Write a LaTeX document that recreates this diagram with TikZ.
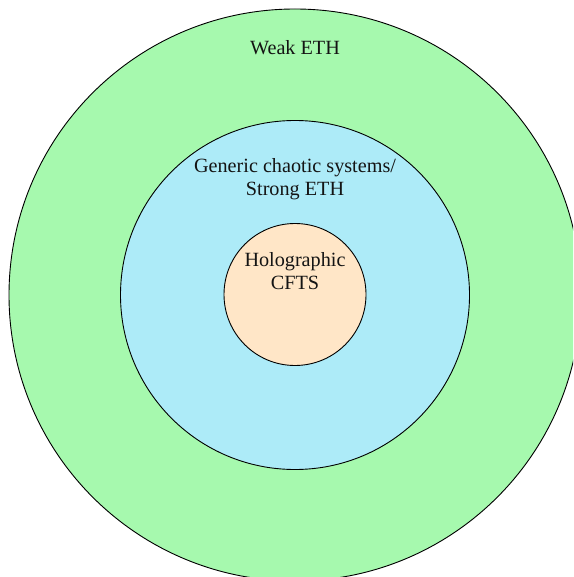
\documentclass[tikz,border=0pt]{standalone}
\usepackage{fontspec}
\setmainfont{Liberation Serif}
\definecolor{outergreen}{RGB}{166,249,174}
\definecolor{midblue}{RGB}{173,235,248}
\definecolor{innerpeach}{RGB}{255,230,199}
\definecolor{txt}{RGB}{20,20,20}
\begin{document}
\begin{tikzpicture}[x=1pt,y=-1pt,
  ring/.style={circle,draw=black,line width=0.9pt,inner sep=0pt},
  lab/.style={text=txt,font=\fontsize{20.2}{22.5}\selectfont,align=center,inner sep=0pt}]
\useasboundingbox (0,0) rectangle (573,577);
\clip (0,0) rectangle (573,577);
\node[ring,fill=outergreen,minimum size=572pt] (outer) at (295,295) {};
\node[ring,fill=midblue,minimum size=349pt] (mid) at (295,295) {};
\node[ring,fill=innerpeach,minimum size=142pt] (inner) at (295,294.5) {};
\node[lab] (weak) at (295,48) {Weak ETH};
\node[lab] (strong) at (295,179) {Generic chaotic systems/\\Strong ETH};
\node[lab] (holo) at (295,271) {Holographic\\CFTS};
\end{tikzpicture}
\end{document}
